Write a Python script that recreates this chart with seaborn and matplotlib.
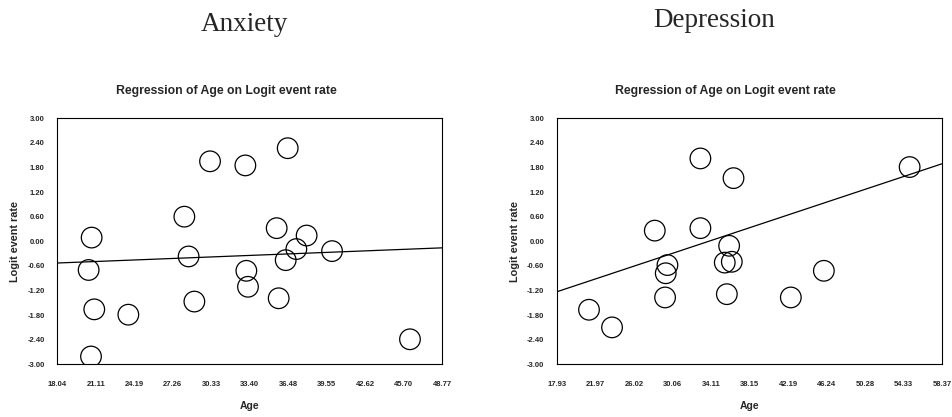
import numpy as np
import pandas as pd
import matplotlib
matplotlib.use('Agg')
import matplotlib.pyplot as plt
import seaborn as sns

# Anxiety studies
anx_age = [20.78, 20.54, 20.99, 20.73, 23.71, 28.18, 28.52, 28.98, 30.23, 33.05,
           33.13, 33.26, 35.55, 35.71, 36.43, 36.27, 37.12, 37.94, 39.97, 46.19]
anx_logit = [0.09, -0.70, -1.66, -2.81, -1.79, 0.60, -0.37, -1.47, 1.95, 1.85,
             -0.72, -1.11, 0.32, -1.39, 2.27, -0.46, -0.19, 0.14, -0.24, -2.39]
anx_line = [-0.53, -0.16]  # fitted value at x-axis min / max
anx_xticks = [18.04, 21.11, 24.19, 27.26, 30.33, 33.40, 36.48, 39.55, 42.62, 45.70, 48.77]

# Depression studies
dep_age = [21.29, 23.71, 28.20, 29.53, 29.35, 29.28, 32.99, 32.99, 36.01, 35.55,
           36.29, 35.77, 36.47, 42.49, 45.96, 54.97]
dep_logit = [-1.67, -2.10, 0.26, -0.58, -0.78, -1.37, 2.02, 0.32, -0.11, -0.52,
             -0.50, -1.29, 1.54, -1.37, -0.72, 1.81]
dep_line = [-1.23, 1.89]
dep_xticks = [17.93, 21.97, 26.02, 30.06, 34.11, 38.15, 42.19, 46.24, 50.28, 54.33, 58.37]

yticks = [-3.0, -2.4, -1.8, -1.2, -0.6, 0.0, 0.6, 1.2, 1.8, 2.4, 3.0]

sns.set_style('white')
plt.rcParams['font.family'] = ['Liberation Sans', 'DejaVu Sans']

fig = plt.figure(figsize=(9.52, 4.17), dpi=100)
ax1 = fig.add_axes([0.0602, 0.1264, 0.4044, 0.590])
ax2 = fig.add_axes([0.5851, 0.1264, 0.4044, 0.590])

# (axes, x, y, fit, ticks, heading, heading x, heading baseline y, title x, ylabel x)
panels = [
    (ax1, anx_age, anx_logit, anx_line, anx_xticks, 'Anxiety', 0.257, 0.9257, 0.2374, 0.016),
    (ax2, dep_age, dep_logit, dep_line, dep_xticks, 'Depression', 0.750, 0.935, 0.7616, 0.541),
]

for ax, age, logit, line, xt, name, cx, cy, tx, ylx in panels:
    df = pd.DataFrame({'Age': age, 'Logit event rate': logit})
    sns.scatterplot(data=df, x='Age', y='Logit event rate', ax=ax, s=220,
                    facecolor='none', edgecolor='black', linewidth=0.9, zorder=3)
    ax.plot([xt[0], xt[-1]], line, color='black', linewidth=0.9, zorder=2)
    ax.set_xlim(xt[0], xt[-1])
    ax.set_ylim(-3.0, 3.0)
    ax.set_xticks(xt)
    ax.set_xticklabels(['%.2f' % v for v in xt], fontsize=5.5, fontweight='bold')
    ax.set_yticks(yticks)
    ax.set_yticklabels(['%.2f' % v for v in yticks], fontsize=5.5, fontweight='bold')
    ax.tick_params(axis='both', direction='out', length=3, width=0.8, color='black')
    ax.tick_params(axis='x', pad=9)
    ax.tick_params(axis='y', pad=6)
    for sp in ax.spines.values():
        sp.set_color('black')
        sp.set_linewidth(0.8)
    ax.set_xlabel('')
    ax.set_ylabel('')
    fig.text((ax.get_position().x0 + ax.get_position().x1) / 2, 0.026, 'Age',
             fontsize=7.5, fontweight='bold', ha='center', va='center')
    fig.text(ylx, 0.42, 'Logit event rate', rotation=90, fontsize=7.8,
             fontweight='bold', ha='center', va='center')
    fig.text(tx, 0.782, 'Regression of Age on Logit event rate', fontsize=8.8,
             fontweight='bold', ha='center', va='center')
    fig.text(cx, cy, name, fontsize=19.5, family=['Liberation Serif', 'DejaVu Serif'],
             ha='center', va='baseline')

fig.savefig('out.png', dpi=100)
